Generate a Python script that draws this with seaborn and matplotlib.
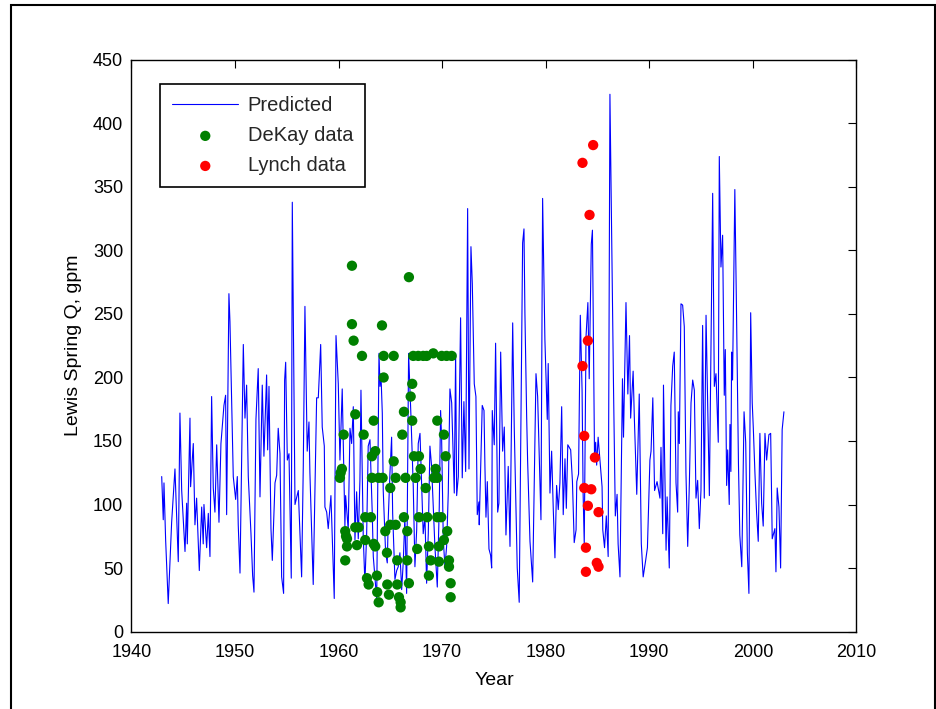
import matplotlib
matplotlib.use("Agg")
import matplotlib.pyplot as plt
import matplotlib.patches as mpatches
import numpy as np
import pandas as pd
import seaborn as sns

# ---------------- data ----------------
pred_year = [1942.92, 1943.07, 1943.14, 1943.30, 1943.55, 1943.88, 1944.20, 1944.52, 1944.68, 1944.85,
             1945.17, 1945.33, 1945.39, 1945.65, 1945.71, 1945.97, 1946.13, 1946.29, 1946.55, 1946.78,
             1946.93, 1947.00, 1947.26, 1947.42, 1947.58, 1947.74, 1947.90, 1948.06, 1948.23, 1948.45,
             1948.64, 1948.93, 1949.09, 1949.19, 1949.41, 1949.51, 1949.83, 1950.06, 1950.22, 1950.31,
             1950.48, 1950.80, 1950.96, 1951.12, 1951.28, 1951.54, 1951.70, 1951.83, 1952.02, 1952.24,
             1952.41, 1952.63, 1952.79, 1953.05, 1953.15, 1953.28, 1953.47, 1953.60, 1953.86, 1954.02,
             1954.17, 1954.34, 1954.50, 1954.69, 1954.79, 1954.89, 1955.05, 1955.21, 1955.43, 1955.53,
             1955.79, 1956.11, 1956.43, 1956.59, 1956.75, 1956.97, 1957.14, 1957.23, 1957.55, 1957.88,
             1958.04, 1958.27, 1958.42, 1958.62, 1958.68, 1958.85, 1959.00, 1959.26, 1959.58, 1959.75,
             1959.97, 1960.13, 1960.35, 1960.61, 1960.68, 1960.93, 1961.10, 1961.26, 1961.42, 1961.58,
             1961.74, 1961.90, 1962.06, 1962.16, 1962.38, 1962.54, 1962.71, 1962.86, 1963.03, 1963.25,
             1963.35, 1963.51, 1963.68, 1963.90, 1964.00, 1964.09, 1964.22, 1964.31, 1964.54, 1964.70,
             1964.80, 1964.96, 1965.12, 1965.22, 1965.44, 1965.61, 1965.76, 1965.92, 1966.09, 1966.24,
             1966.40, 1966.57, 1966.76, 1966.99, 1967.21, 1967.37, 1967.54, 1967.69, 1967.86, 1968.02,
             1968.17, 1968.34, 1968.50, 1968.66, 1968.82, 1968.98, 1969.14, 1969.30, 1969.53, 1969.72,
             1969.85, 1969.95, 1970.11, 1970.27, 1970.43, 1970.59, 1970.75, 1970.92, 1971.17, 1971.30,
             1971.40, 1971.56, 1971.78, 1971.94, 1972.10, 1972.27, 1972.46, 1972.59, 1972.78, 1972.91,
             1973.10, 1973.26, 1973.39, 1973.55, 1973.58, 1973.75, 1973.87, 1974.04, 1974.13, 1974.23,
             1974.36, 1974.52, 1974.68, 1974.78, 1974.84, 1975.03, 1975.16, 1975.36, 1975.48, 1975.65,
             1975.84, 1976.00, 1976.16, 1976.38, 1976.55, 1976.81, 1976.96, 1977.13, 1977.25, 1977.44,
             1977.77, 1977.90, 1977.99, 1978.16, 1978.25, 1978.48, 1978.74, 1979.06, 1979.22, 1979.54,
             1979.70, 1979.92, 1980.15, 1980.24, 1980.41, 1980.57, 1980.73, 1980.89, 1981.05, 1981.21,
             1981.37, 1981.54, 1981.69, 1981.86, 1981.99, 1982.13, 1982.41, 1982.58, 1982.75, 1982.93,
             1983.00, 1983.17, 1983.34, 1983.51, 1983.61, 1983.72, 1983.89, 1984.07, 1984.20, 1984.40,
             1984.51, 1984.71, 1984.82, 1984.92, 1985.06, 1985.27, 1985.44, 1985.51, 1985.68, 1985.85,
             1986.03, 1986.20, 1986.55, 1986.72, 1986.89, 1986.99, 1987.17, 1987.41, 1987.51, 1987.75,
             1987.93, 1988.09, 1988.20, 1988.44, 1988.55, 1988.79, 1989.03, 1989.23, 1989.41, 1989.65,
             1989.82, 1990.06, 1990.17, 1990.34, 1990.51, 1990.75, 1991.03, 1991.13, 1991.30, 1991.37,
             1991.62, 1991.72, 1991.93, 1992.09, 1992.26, 1992.41, 1992.58, 1992.74, 1992.80, 1992.90,
             1993.06, 1993.22, 1993.38, 1993.54, 1993.71, 1993.87, 1994.03, 1994.19, 1994.35, 1994.51,
             1994.67, 1994.83, 1994.99, 1995.15, 1995.31, 1995.48, 1995.80, 1995.96, 1996.12, 1996.28,
             1996.44, 1996.66, 1996.76, 1996.92, 1997.08, 1997.24, 1997.34, 1997.47, 1997.57, 1997.72,
             1997.79, 1997.88, 1997.95, 1998.04, 1998.26, 1998.42, 1998.61, 1998.74, 1998.93, 1999.15,
             1999.31, 1999.47, 1999.62, 1999.79, 1999.94, 2000.04, 2000.20, 2000.36, 2000.52, 2000.68,
             2000.85, 2001.00, 2001.17, 2001.33, 2001.55, 2001.72, 2001.87, 2002.13, 2002.23, 2002.35,
             2002.52, 2002.68, 2002.83, 2003.00]

pred_q = [122, 88, 117, 72, 22, 86, 128, 55, 172, 111,
          63, 101, 69, 168, 114, 148, 84, 105, 48, 98,
          69, 100, 66, 93, 59, 185, 113, 94, 147, 86,
          148, 178, 186, 92, 266, 244, 122, 104, 122, 84,
          46, 226, 168, 194, 122, 77, 44, 31, 167, 207,
          106, 194, 138, 202, 143, 193, 81, 56, 117, 123,
          160, 140, 43, 30, 198, 212, 135, 140, 42, 338,
          100, 111, 43, 130, 256, 142, 165, 125, 37, 184,
          184, 226, 161, 146, 98, 94, 81, 107, 26, 233,
          195, 135, 191, 83, 107, 80, 160, 148, 177, 72,
          110, 73, 119, 190, 75, 38, 77, 146, 151, 93,
          59, 43, 25, 219, 193, 203, 172, 111, 62, 54,
          90, 125, 153, 93, 41, 48, 51, 62, 33, 54,
          90, 30, 219, 169, 114, 51, 80, 148, 156, 114,
          77, 90, 38, 77, 146, 130, 98, 67, 35, 98,
          174, 151, 72, 51, 67, 109, 191, 180, 109, 219,
          107, 122, 247, 121, 181, 126, 333, 128, 303, 274,
          195, 185, 92, 102, 84, 139, 178, 174, 130, 90,
          118, 65, 60, 50, 174, 147, 227, 94, 101, 220,
          142, 161, 76, 130, 67, 243, 161, 97, 50, 23,
          306, 317, 251, 169, 135, 71, 39, 203, 185, 88,
          341, 230, 167, 211, 109, 142, 96, 58, 115, 96,
          117, 177, 92, 136, 97, 147, 143, 118, 70, 80,
          118, 124, 249, 190, 109, 69, 232, 259, 199, 305,
          316, 139, 149, 131, 153, 131, 114, 80, 66, 91,
          59, 423, 190, 91, 108, 69, 43, 199, 153, 259,
          187, 233, 168, 205, 170, 108, 187, 69, 43, 56,
          66, 135, 142, 184, 111, 118, 105, 145, 77, 194,
          64, 106, 50, 178, 209, 220, 117, 94, 173, 148,
          258, 257, 240, 125, 67, 117, 180, 198, 190, 105,
          119, 81, 111, 241, 105, 249, 107, 230, 345, 193,
          203, 149, 374, 287, 312, 186, 222, 115, 143, 100,
          163, 126, 220, 198, 348, 253, 132, 76, 51, 173,
          149, 62, 30, 251, 180, 161, 125, 94, 71, 156,
          101, 83, 156, 135, 155, 156, 73, 81, 47, 113,
          98, 50, 159, 173]

dekay_year = [1960.13, 1960.20, 1960.32, 1960.49, 1960.64, 1960.64, 1960.81, 1960.81, 1960.72, 1961.29,
              1961.29, 1961.45, 1961.61, 1961.61, 1961.77, 1961.94, 1962.26, 1962.42, 1962.57, 1962.57,
              1962.74, 1962.90, 1963.12, 1963.22, 1963.22, 1963.39, 1963.39, 1963.54, 1963.54, 1963.70,
              1963.73, 1963.87, 1963.87, 1964.19, 1964.25, 1964.35, 1964.35, 1964.51, 1964.67, 1964.70,
              1964.86, 1964.99, 1964.99, 1965.32, 1965.32, 1965.51, 1965.51, 1965.66, 1965.66, 1965.83,
              1965.99, 1965.99, 1966.15, 1966.31, 1966.31, 1966.47, 1966.63, 1966.63, 1966.79, 1966.79,
              1966.96, 1967.11, 1967.11, 1967.21, 1967.28, 1967.44, 1967.59, 1967.69, 1967.76, 1967.76,
              1967.92, 1968.17, 1968.41, 1968.50, 1968.56, 1968.72, 1968.72, 1968.89, 1969.14, 1969.21,
              1969.37, 1969.53, 1969.53, 1969.53, 1969.69, 1969.69, 1969.91, 1969.95, 1970.17, 1970.17,
              1970.34, 1970.43, 1970.49, 1970.66, 1970.66, 1970.82, 1970.82, 1970.92]
dekay_q = [121, 125, 128, 155, 79, 56, 73, 67, 75, 288,
           242, 229, 171, 82, 68, 82, 217, 155, 90, 72,
           42, 37, 90, 138, 121, 166, 69, 142, 67, 44,
           31, 23, 121, 241, 121, 217, 200, 79, 62, 37,
           29, 113, 84, 217, 134, 121, 84, 56, 37, 27,
           23, 19, 155, 173, 90, 121, 79, 56, 279, 38,
           185, 195, 166, 217, 138, 121, 65, 217, 138, 90,
           128, 217, 113, 217, 90, 67, 44, 56, 219, 121,
           128, 166, 121, 90, 67, 55, 90, 217, 155, 72,
           138, 217, 79, 56, 51, 38, 27, 217]

lynch_year = [1984.58, 1983.55, 1984.23, 1984.07, 1983.55, 1983.72, 1984.75, 1983.72, 1984.40, 1984.07,
              1985.10, 1983.88, 1984.93, 1985.10, 1983.88]
lynch_q = [383, 369, 328, 229, 209, 154, 137, 113, 112, 99,
           94, 66, 54, 51, 47]

x_ticks = [1940, 1950, 1960, 1970, 1980, 1990, 2000, 2010]
y_ticks = [0, 50, 100, 150, 200, 250, 300, 350, 400, 450]

# ---------------- drawing ----------------
sns.set_theme(style="white")
plt.rcParams["font.family"] = ["Liberation Sans", "DejaVu Sans"]

fig = plt.figure(figsize=(9.37, 7.09), dpi=100, facecolor="white")
ax = fig.add_axes([0.1403, 0.1093, 0.7737, 0.8061])

pred_df = pd.DataFrame({"Year": pred_year, "Q": pred_q})
dekay_df = pd.DataFrame({"Year": dekay_year, "Q": dekay_q})
lynch_df = pd.DataFrame({"Year": lynch_year, "Q": lynch_q})

sns.lineplot(data=pred_df, x="Year", y="Q", ax=ax, color="#0000FF", linewidth=0.8,
             sort=False, estimator=None, label="Predicted")
sns.scatterplot(data=dekay_df, x="Year", y="Q", ax=ax, color="#008000", s=55,
                edgecolor="none", linewidth=0, label="DeKay data", zorder=3)
sns.scatterplot(data=lynch_df, x="Year", y="Q", ax=ax, color="#FF0000", s=55,
                edgecolor="none", linewidth=0, label="Lynch data", zorder=3)

ax.set_xlim(1940, 2010)
ax.set_ylim(0, 450)
ax.set_xticks(x_ticks)
ax.set_yticks(y_ticks)
ax.set_xlabel("Year", fontsize=14, color="black", labelpad=8)
ax.set_ylabel("Lewis Spring Q, gpm", fontsize=14, color="black", labelpad=8)
ax.tick_params(direction="in", length=6, width=0.8, top=True, right=True,
               labelsize=13, colors="black")
ax.tick_params(axis="x", pad=9)
ax.tick_params(axis="y", pad=6)
for sp in ax.spines.values():
    sp.set_visible(True)
    sp.set_color("black")
    sp.set_linewidth(1.0)
ax.grid(False)

leg = ax.legend(loc="upper left", bbox_to_anchor=(0.0393, 0.958), borderaxespad=0,
                frameon=True, fancybox=False, edgecolor="black", fontsize=14.5,
                handlelength=3.3, labelspacing=0.55, borderpad=0.6, handletextpad=0.45,
                scatterpoints=1, framealpha=1)
leg.get_frame().set_linewidth(1.2)

# outer figure frame
fig.patches.append(mpatches.Rectangle((0.012, -0.01), 0.986, 1.003, transform=fig.transFigure,
                                      fill=False, edgecolor="black", linewidth=1.5))

fig.savefig("out.png", dpi=100, facecolor="white")
